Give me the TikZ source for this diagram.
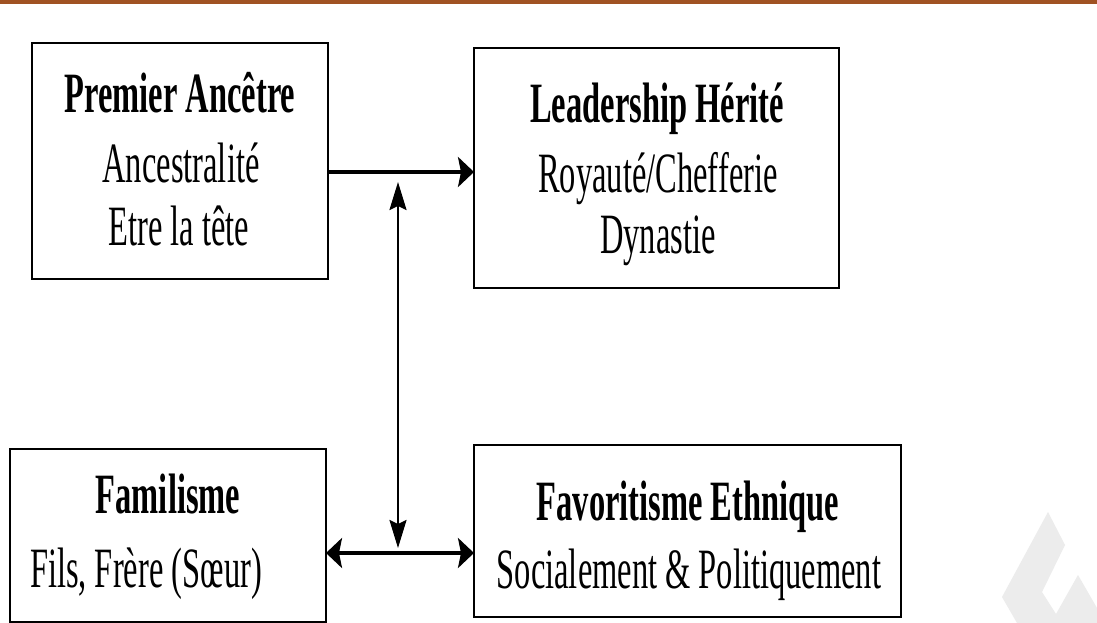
\documentclass[tikz,border=0pt]{standalone}
\usepackage{fontspec}
\newfontfamily\tnr[FakeStretch=0.57]{Liberation Serif}
\usetikzlibrary{arrows.meta}
\definecolor{band}{RGB}{160,82,35}
\definecolor{wmark}{RGB}{236,236,236}
\tikzset{
  boxst/.style={draw=black, line width=2.5pt, rectangle, inner sep=0pt, outer sep=0pt, fill=none},
  txt/.style={inner sep=0pt, outer sep=0pt, anchor=base, font=\tnr\fontsize{57}{66}\selectfont},
  btxt/.style={txt, font=\tnr\bfseries\fontsize{57}{66}\selectfont},
  harr/.style={line width=3.5pt, -{Stealth[length=16pt, width=30pt, inset=3pt]}},
  hdarr/.style={line width=3.5pt, {Stealth[length=16pt, width=30pt, inset=3pt]}-{Stealth[length=16pt, width=30pt, inset=3pt]}},
  vdarr/.style={line width=2.2pt, {Stealth[length=28pt, width=17pt, inset=4pt]}-{Stealth[length=28pt, width=17pt, inset=4pt]}}
}
\begin{document}
\begin{tikzpicture}[x=1pt, y=-1pt]
\useasboundingbox (0,0) rectangle (1097,623);
\fill[white] (0,0) rectangle (1097,623);
% top band
\fill[band] (0,0) rectangle (1097,4.5);
% watermark
\fill[wmark] (1048,512) -- (1065,545) -- (1042,592) -- (1056,614) -- (1078,575) -- (1097,608) -- (1097,623) -- (1017,623) -- (1002,597) -- cycle;
% boxes
\node[boxst, minimum width=296pt, minimum height=236pt] (b1) at (180,161) {};
\node[boxst, minimum width=365pt, minimum height=240pt] (b2) at (656.5,168) {};
\node[boxst, minimum width=316pt, minimum height=173pt] (b3) at (168,535.5) {};
\node[boxst, minimum width=427pt, minimum height=172pt] (b4) at (687.5,531) {};
% texts
\node[btxt] (t1a) at (180,113) {Premier Ancêtre};
\node[txt] (t1b) at (181,182) {Ancestralité};
\node[txt] (t1c) at (179,245) {Etre la tête};
\node[btxt] (t2a) at (657,123) {Leadership Hérité};
\node[txt] (t2b) at (658,192) {Royauté/Chefferie};
\node[txt] (t2c) at (658,253) {Dynastie};
\node[btxt] (t3a) at (168,513) {Familisme};
\node[txt, anchor=base west] (t3b) at (30,587) {Fils, Frère (Sœur)};
\node[btxt] (t4a) at (688,520) {Favoritisme Ethnique};
\node[txt] (t4b) at (689,588) {Socialement \& Politiquement};
% connectors
\coordinate (ya) at (0,172);
\coordinate (yb) at (0,553);
\coordinate (vt) at (398,182);
\coordinate (vb) at (398,548);
\draw[harr] (b1.east |- ya) -- (b2.west |- ya);
\draw[vdarr] (vt) -- (vb);
\draw[hdarr] (b3.east |- yb) -- (b4.west |- yb);
\end{tikzpicture}
\end{document}
